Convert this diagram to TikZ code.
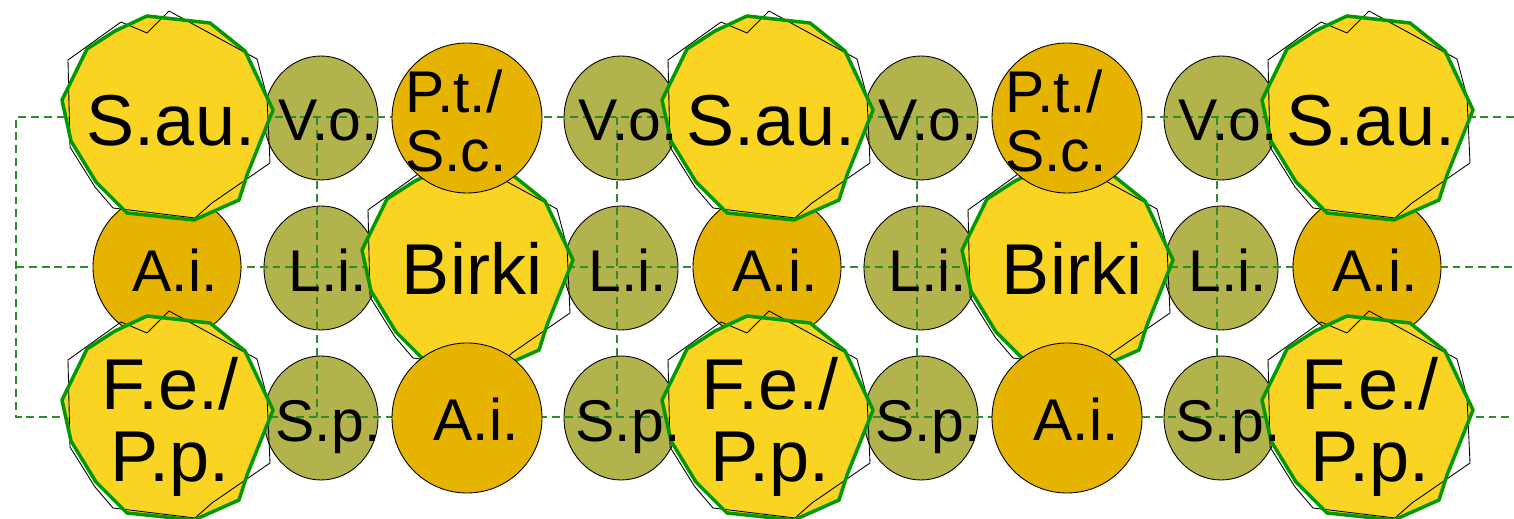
\documentclass[tikz,border=0pt]{standalone}
\usepackage{fontspec}
\setmainfont{Liberation Sans}
\usepackage{tikz}
\definecolor{crown}{HTML}{F9D423}
\definecolor{amber}{HTML}{E6B400}
\definecolor{moss}{HTML}{B3B34E}
\definecolor{leaf}{HTML}{009A00}
\definecolor{grass}{HTML}{2E8B2E}
\renewcommand{\Large}{\fontsize{41}{41}\selectfont}
\renewcommand{\large}{\fontsize{33.5}{33.5}\selectfont}
\newcommand{\crownpath}{(-20,-101) -- (43,-94) -- (78,-66) -- (106,-7) -- (80,58)
  -- (72,83) -- (27,103) -- (-40,96) -- (-71,65) -- (-96,24) -- (-105,-17)
  -- (-80,-68) -- (-52,-86) -- cycle}
\newcommand{\canopy}[2]{%
  \begin{scope}[shift={(#1,#2)}]
    \fill[crown] \crownpath;
    \draw[black, line width=0.5pt, line join=round]
      (-99,-57) -- (-46,-95) -- (-20,-84) -- (2,-106) -- (90,-58) -- (100,-20)
      -- (103,46) -- (45,86) -- (28,101) -- (-54,91) -- (-72,70) -- (-97,30) -- cycle;
    \draw[leaf, line width=2pt, line join=round] \crownpath;
  \end{scope}}

\begin{document}
\begin{tikzpicture}[x=0.02cm, y=-0.02cm,
  gridline/.style={grass, line width=0.6pt, dash pattern=on 4.5pt off 2.8pt},
  herb/.style={fill=moss, draw=black, line width=0.5pt},
  shrub/.style={fill=amber, draw=black, line width=0.5pt},
  biglabel/.style={font=\Large, text height=29.4pt, text depth=0pt, inner sep=0pt},
  smalllabel/.style={font=\large, text height=24pt, text depth=0pt, inner sep=0pt},
  twolines/.style={align=center, text depth=0pt, inner sep=0pt}]
  \useasboundingbox (0,0) rectangle (1514,519);

  \foreach \x in {317,617,917,1217}
    \foreach \y in {117,267,417}
      \draw[herb] (\x+4,\y+1) ellipse [x radius=57, y radius=62];

  \draw[gridline] (1514,117) -- (16,117) -- (16,417) -- (1514,417);
  \draw[gridline] (16,267) -- (1514,267);
  \foreach \x in {317,617,917,1217}
    \draw[gridline] (\x,117) -- (\x,417);

  \foreach \x in {167,767,1367}
    \draw[shrub] (\x,267) circle [radius=74];
  \foreach \x in {467,1067} {
    \canopy{\x}{267}
  }
  \foreach \x in {167,767,1367} {
    \canopy{\x}{117}
    \canopy{\x}{417}
  }
  \foreach \x in {467,1067} {
    \draw[shrub] (\x,118) circle [radius=75];
    \draw[shrub] (\x,418) circle [radius=75];
  }

  \foreach \x/\n in {167/1,767/2,1367/3} {
    \node[biglabel] (sau\n) at (\x+4,120) {S.au.};
    \node[smalllabel] (ai\n) at (\x+8,270) {A.i.};
    \node[twolines, font=\Large] (fepp\n) at (\x+3,419) {F.e./\\P.p.};
  }
  \foreach \x/\n in {467/1,1067/2} {
    \node[twolines, align=left, font=\large] (ptsc\n) at (\x-11,121) {P.t./\\S.c.};
    \node[biglabel] (birki\n) at (\x+5,269) {Birki};
    \node[smalllabel] (aib\n) at (\x+9,419) {A.i.};
  }
  \foreach \x/\n in {317/1,617/2,917/3,1217/4} {
    \node[smalllabel] (vo\n) at (\x+11,119) {V.o.};
    \node[smalllabel] (li\n) at (\x+11,270) {L.i.};
    \node[smalllabel] (sp\n) at (\x+11,420) {S.p.};
  }
\end{tikzpicture}
\end{document}
